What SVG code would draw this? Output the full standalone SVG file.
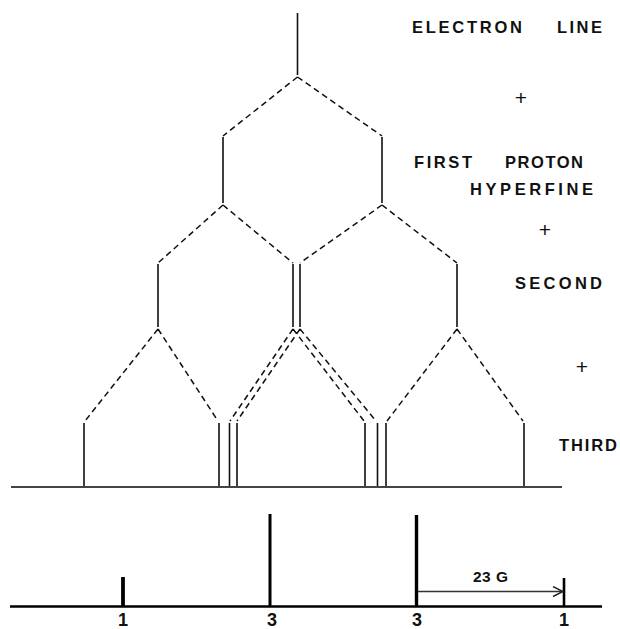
<svg xmlns="http://www.w3.org/2000/svg" width="620" height="629" viewBox="0 0 620 629">
<style>
.lv{stroke:#111;stroke-width:1.6;fill:none}
.ds{stroke:#111;stroke-width:1.5;fill:none;stroke-dasharray:6 4}
.lab{font-family:"Liberation Sans",Arial,sans-serif;font-size:16.5px;font-weight:bold;fill:#111}
.plus{font-family:"Liberation Sans",Arial,sans-serif;font-size:21px;fill:#111}
.num{font-family:"Liberation Sans",Arial,sans-serif;font-size:18px;font-weight:bold;fill:#111}
.stk{stroke:#000;fill:none}
</style>
<defs>
<marker id="chev" viewBox="0 0 12 12" refX="11" refY="6" markerWidth="12" markerHeight="12" markerUnits="userSpaceOnUse" orient="auto">
<path d="M1 1 L11 6 L1 11" fill="none" stroke="#222" stroke-width="1.4"/>
</marker>
</defs>
<rect width="620" height="629" fill="#fff"/>
<g id="levels">
<path class="lv" d="M297.5 13V75"/>
<path class="lv" d="M223 137V203M382 137V203"/>
<path class="lv" d="M158 264V327M293 264V327M300 264V327M457 264V327"/>
<path class="lv" d="M84 423V487M219 423V487M229.5 423V487M237 423V487M365 423V487M377.5 423V487M386 423V487M524 423V487"/>
</g>
<g id="connectors">
<path class="ds" d="M297.5 77L223 136M297.5 77L382 136"/>
<path class="ds" d="M223 205L158 263M223 205L293 263M382 205L300 263M382 205L457 263"/>
<path class="ds" d="M158 329L85 421M158 329L218 421M293 329L230 421M300 329L237 421M293 329L364 421M300 329L376 421M457 329L387 421M457 329L523 421"/>
</g>
<g id="upper-axis">
<line x1="11" y1="487" x2="562" y2="487" stroke="#444" stroke-width="2"/>
</g>
<g id="labels">
<text class="lab" x="412" y="33" textLength="110" lengthAdjust="spacing">ELECTRON</text>
<text class="lab" x="557" y="33" textLength="45" lengthAdjust="spacing">LINE</text>
<text class="plus" x="521" y="105" text-anchor="middle">+</text>
<text class="lab" x="414" y="168" textLength="58" lengthAdjust="spacing">FIRST</text>
<text class="lab" x="505" y="168" textLength="78" lengthAdjust="spacing">PROTON</text>
<text class="lab" x="470" y="195" textLength="123" lengthAdjust="spacing">HYPERFINE</text>
<text class="plus" x="545" y="237" text-anchor="middle">+</text>
<text class="lab" x="515" y="289" textLength="87" lengthAdjust="spacing">SECOND</text>
<text class="plus" x="582" y="374" text-anchor="middle">+</text>
<text class="lab" x="559" y="451" textLength="58" lengthAdjust="spacing">THIRD</text>
</g>
<g id="spectrum">
<line x1="10" y1="606.5" x2="602" y2="606.5" stroke="#000" stroke-width="2.5"/>
<line class="stk" x1="123" y1="577" x2="123" y2="606" stroke-width="3.8"/>
<line class="stk" x1="270" y1="514" x2="270" y2="606" stroke-width="3"/>
<line class="stk" x1="416.5" y1="515" x2="416.5" y2="606" stroke-width="3.4"/>
<line class="stk" x1="564" y1="578" x2="564" y2="606" stroke-width="2.6"/>
<line x1="418" y1="591.5" x2="563" y2="591.5" stroke="#333" stroke-width="1.6" marker-end="url(#chev)"/>
<text class="lab" x="473" y="582" style="font-size:15.5px;letter-spacing:0.5px">23 G</text>
<text class="num" x="123" y="626" text-anchor="middle">1</text>
<text class="num" x="272" y="626" text-anchor="middle">3</text>
<text class="num" x="417" y="626" text-anchor="middle">3</text>
<text class="num" x="564" y="626" text-anchor="middle">1</text>
</g>
</svg>
